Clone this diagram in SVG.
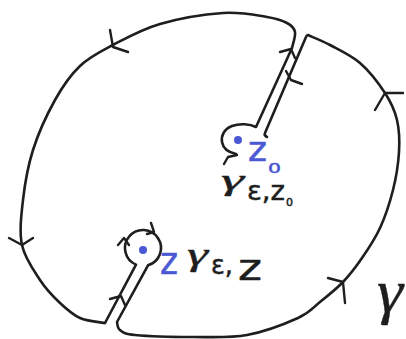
<svg xmlns="http://www.w3.org/2000/svg" width="406" height="339" viewBox="0 0 406 339">
<style>
.c{fill:none;stroke:#1e1e1e;stroke-width:2.6;stroke-linecap:round;stroke-linejoin:round}
.a{fill:none;stroke:#1e1e1e;stroke-width:2.4;stroke-linecap:round;stroke-linejoin:round}
.dot{fill:#4a58d4}
.t{font-family:"DejaVu Sans",sans-serif;fill:#1e1e1e;stroke:#1e1e1e;stroke-width:0.5}
.g{font-family:"Liberation Serif",serif;font-style:italic;fill:#1e1e1e;stroke:#1e1e1e;stroke-width:0.4}
.tb{font-family:"DejaVu Sans",sans-serif;fill:#4a58d4;stroke:#4a58d4;stroke-width:0.5}
</style>
<rect width="406" height="339" fill="#ffffff"/>
<g id="connectors">
<path id="outer-left" class="c" d="M105,323 C100.8,322.2 87.5,321.3 80,318 C72.5,314.7 66.7,309.3 60,303 C53.3,296.7 46.3,289.7 40,280 C33.7,270.3 24.8,258.3 22,245 C19.2,231.7 21.2,215.8 23,200 C24.8,184.2 27.7,166.7 33,150 C38.3,133.3 47.2,114 55,100 C62.8,86 70.3,75.2 80,66 C89.7,56.8 99.7,52 113,45 C126.3,38 141.7,29.3 160,24 C178.3,18.7 205.2,14.2 223,13 C240.8,11.8 256.3,15.3 267,17 C277.7,18.7 282.3,20.5 287,23 C291.7,25.5 294.2,27.8 295,32 C295.8,36.2 292.5,45.3 292,48 L256,127 C250,124 240,123 232,126 C224,129 221,136 222,142 C223,148 227,152 236,154"/>
<path id="outer-right" class="c" d="M267,137 C265,136 264,135 265,133 L306,37 C306.5,35.5 307,35 308,35 C311.7,36.7 321.3,40.3 330,45 C338.7,49.7 350.8,55 360,63 C369.2,71 378.8,83.5 385,93 C391.2,102.5 394.7,110.2 397,120 C399.3,129.8 399.7,140.3 399,152 C398.3,163.7 396.2,177.3 393,190 C389.8,202.7 385.2,216.7 380,228 C374.8,239.3 368.2,249 362,258 C355.8,267 350,274.7 343,282 C336,289.3 327.5,296 320,302 C312.5,308 310.2,312.5 298,318 C285.8,323.5 264.5,331.8 247,335 C229.5,338.2 211.7,337 193,337 C174.3,337 147.2,336.2 135,335 C122.8,333.8 123,332.2 120,330 C117,328 117.5,323.3 117,322 L148,265.3 A18,18 0 1 0 136,264.6 L105,323"/>
<g id="arrowheads">
<polyline class="a" points="110,30 113,47 128,52"/>
<polyline class="a" points="9,238 22,245 33,238"/>
<polyline class="a" points="110,299 121,296 125,305"/>
<polyline class="a" points="118,245 124,238 129,245"/>
<polyline class="a" points="151,223 154,232 147,234"/>
<polyline class="a" points="328,278 343,282 345,303"/>
<polyline class="a" points="403,93 385,93 375,110"/>
<polyline class="a" points="286,71 291,80 302,84"/>
<polyline class="a" points="280,52 291,49 295,58"/>
<polyline class="a" points="237,155 228,157 224,164"/>
</g>
</g>
<g id="node-z0">
<circle class="dot" cx="238" cy="140" r="4"/>
<text class="tb" x="248" y="161" font-size="34" textLength="19" lengthAdjust="spacingAndGlyphs">z</text>
<text class="tb" x="268" y="173" font-size="14" textLength="13" lengthAdjust="spacingAndGlyphs">0</text>
</g>
<g id="node-gamma-eps-z0">
<text class="g" x="221" y="190" font-size="30" textLength="23" lengthAdjust="spacingAndGlyphs">γ</text>
<text class="t" x="247" y="200" font-size="27" textLength="38" lengthAdjust="spacingAndGlyphs">ε,z</text>
<text class="t" x="286" y="206" font-size="11">0</text>
</g>
<g id="node-z">
<circle class="dot" cx="143" cy="250" r="4"/>
<text class="tb" x="160" y="274" font-size="38" textLength="18" lengthAdjust="spacingAndGlyphs">z</text>
</g>
<g id="node-gamma-eps-z">
<text class="g" x="187" y="265" font-size="32" textLength="21" lengthAdjust="spacingAndGlyphs">γ</text>
<text class="t" x="211" y="274" font-size="27" textLength="22" lengthAdjust="spacingAndGlyphs">ε,</text>
<text class="t" x="238" y="280" font-size="36" textLength="24" lengthAdjust="spacingAndGlyphs">z</text>
</g>
<g id="node-gamma">
<text class="g" x="377" y="312" font-size="62" textLength="26" lengthAdjust="spacingAndGlyphs">γ</text>
</g>
</svg>
